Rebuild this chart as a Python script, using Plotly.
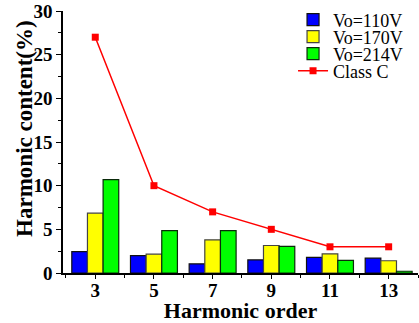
import plotly.graph_objects as go

orders = [3, 5, 7, 9, 11, 13]
vo110 = [2.45, 2.0, 1.05, 1.5, 1.8, 1.7]
vo170 = [6.85, 2.15, 3.8, 3.15, 2.2, 1.4]
vo214 = [10.7, 4.85, 4.85, 3.05, 1.45, 0.2]
class_c = [27, 10, 7, 5, 3, 3]

FONT = "Liberation Serif, Times New Roman, serif"

fig = go.Figure()
fig.add_trace(go.Bar(x=orders, y=vo110, name="Vo=110V", legend="legend",
                     marker=dict(color="#0000FF", line=dict(color="#111111", width=1.2))))
fig.add_trace(go.Bar(x=orders, y=vo170, name="Vo=170V", legend="legend2",
                     marker=dict(color="#FFFF00", line=dict(color="#444444", width=1.2))))
fig.add_trace(go.Bar(x=orders, y=vo214, name="Vo=214V", legend="legend3",
                     marker=dict(color="#00FF00", line=dict(color="#0a2a0a", width=1.2))))
fig.add_trace(go.Scatter(x=orders, y=class_c, name="Class C", mode="lines+markers", legend="legend4",
                         line=dict(color="#FF0000", width=1.5),
                         marker=dict(symbol="square", size=7, color="#FF0000")))

def leg(ypix):
    return dict(x=0.648, xanchor="left", y=1 - (ypix - 11) / 262, yanchor="middle",
                bgcolor="rgba(0,0,0,0)", font=dict(family=FONT, size=18, color="black"),
                itemwidth=30, tracegroupgap=0, visible=True)

fig.update_layout(
    width=419, height=323,
    margin=dict(l=63, r=1, t=11, b=50, autoexpand=False),
    paper_bgcolor="white", plot_bgcolor="white",
    barmode="group", bargap=0.2, bargroupgap=0,
    font=dict(family=FONT, color="black"),
    showlegend=True,
    legend=leg(20), legend2=leg(37), legend3=leg(54), legend4=leg(71),
    xaxis=dict(range=[1.9, 14.0], tickmode="linear", tick0=3, dtick=2, automargin=False,
               showline=True, linecolor="black", linewidth=1.5,
               ticks="outside", ticklen=4, tickwidth=1, tickcolor="black",
               ticklabelstandoff=-5,
               minor=dict(tickmode="linear", tick0=0, dtick=1, ticks="outside", ticklen=3, tickcolor="black"),
               showgrid=False, zeroline=False,
               tickfont=dict(family=FONT, size=19, color="black", weight="bold"),
               title=dict(text="Harmonic order", standoff=0,
                          font=dict(family=FONT, size=22, color="black", weight="bold"))),
    yaxis=dict(range=[0, 30], tickmode="linear", tick0=0, dtick=5, automargin=False,
               showline=True, linecolor="black", linewidth=1.5,
               ticks="outside", ticklen=5, tickwidth=1, tickcolor="black",
               minor=dict(tickmode="linear", tick0=0, dtick=2.5, ticks="outside", ticklen=3, tickcolor="black"),
               showgrid=False, zeroline=False,
               tickfont=dict(family=FONT, size=19, color="black", weight="bold")),
    annotations=[dict(text="Harmonic content(%)", textangle=-90, showarrow=False,
                      xref="paper", yref="paper", x=-0.107, y=0.55,
                      xanchor="center", yanchor="middle",
                      font=dict(family=FONT, size=23, color="black", weight="bold"))],
)

fig.write_html("out.html", config={"displayModeBar": False},
               post_script="document.body.style.margin='0';document.body.style.padding='0';")
